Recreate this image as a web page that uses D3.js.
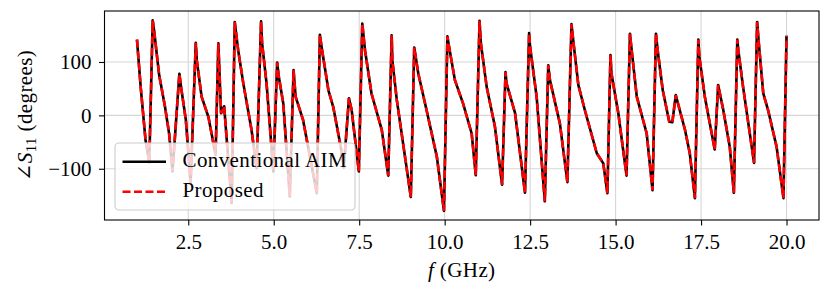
<!DOCTYPE html>
<html>
<head>
<meta charset="utf-8">
<script src="https://d3js.org/d3.v7.min.js"></script>
<style>
  body { margin: 0; background: #fff; }
  svg { font-family: "Liberation Serif", "DejaVu Serif", serif; }
</style>
</head>
<body>
<script>
// frequency samples (GHz)
var freqGHz = [
  1.00, 1.11, 1.25, 1.36, 1.46, 1.50, 1.65, 1.82, 1.94, 2.04,
  2.24, 2.29, 2.43, 2.57, 2.72, 2.75, 2.89, 3.09, 3.30, 3.38,
  3.46, 3.55, 3.77, 3.86, 3.96, 4.11, 4.35, 4.50, 4.63, 4.66,
  4.79, 4.99, 5.10, 5.15, 5.28, 5.47, 5.58, 5.64, 5.86, 6.26,
  6.35, 6.40, 6.60, 6.74, 6.96, 7.05, 7.20, 7.28, 7.49, 7.59,
  7.67, 7.86, 8.16, 8.35, 8.45, 8.47, 8.60, 9.01, 9.11, 9.23,
  9.47, 9.77, 9.98, 10.08, 10.13, 10.30, 10.54, 10.79, 10.91, 11.02,
  11.06, 11.23, 11.47, 11.68, 11.78, 11.81, 12.06, 12.35, 12.47, 12.50,
  12.69, 12.93, 13.03, 13.08, 13.37, 13.59, 13.71, 13.76, 13.91, 14.10,
  14.45, 14.64, 14.76, 14.85, 14.88, 15.08, 15.32, 15.42, 15.47, 15.62,
  15.91, 16.08, 16.18, 16.23, 16.38, 16.57, 16.66, 16.76, 17.03, 17.17,
  17.32, 17.42, 17.45, 17.61, 17.90, 18.00, 18.15, 18.34, 18.46, 18.56,
  18.59, 18.73, 19.05, 19.14, 19.19, 19.32, 19.46, 19.71, 19.91, 20.00
];

// phase of S11 (degrees), conventional AIM
var aimPhase = [
  142, 52, -46, -88, 178, 159, 75, 16, -34, -105,
  78, 53, -9, -126, 136, 103, 35, -3, -74, 135,
  4, 17, -164, 175, 122, 60, -27, -99, 176, 135,
  60, -105, 99, 72, 22, -152, 85, 35, -9, -146,
  151, 128, 47, 16, -59, -98, 32, 10, -105, 172,
  122, 41, -27, -113, 150, 103, 29, -153, 127, 78,
  10, -77, -179, 148, 128, 66, 22, -34, -112, 177,
  135, 53, -21, -130, 81, 60, 4, -145, 154, 128,
  35, -161, 94, 66, -15, -125, 171, 141, 57, 10,
  -71, -90, -146, 113, 78, 4, -113, 153, 122, 35,
  -34, -140, 153, 122, 47, -12, -13, 38, -27, -71,
  -155, 142, 110, 35, -64, 57, 10, -59, -145, 142,
  122, 53, -89, 175, 135, 41, 10, -59, -155, 149
];

// proposed method (lies on top of the conventional curve)
var proposedPhase = [
  142, 52, -46, -88, 178, 159, 75, 16, -34, -105,
  78, 53, -9, -126, 136, 103, 35, -3, -74, 135,
  4, 17, -164, 175, 122, 60, -27, -99, 176, 135,
  60, -105, 99, 72, 22, -152, 85, 35, -9, -146,
  151, 128, 47, 16, -59, -98, 32, 10, -105, 172,
  122, 41, -27, -113, 150, 103, 29, -153, 127, 78,
  10, -77, -179, 148, 128, 66, 22, -34, -112, 177,
  135, 53, -21, -130, 81, 60, 4, -145, 154, 128,
  35, -161, 94, 66, -15, -125, 171, 141, 57, 10,
  -71, -90, -146, 113, 78, 4, -113, 153, 122, 35,
  -34, -140, 153, 122, 47, -12, -13, 38, -27, -71,
  -155, 142, 110, 35, -64, 57, 10, -59, -145, 142,
  122, 53, -89, 175, 135, 41, 10, -59, -155, 149
];

var xTicks = [2.5, 5.0, 7.5, 10.0, 12.5, 15.0, 17.5, 20.0];
var yTicks = [-100, 0, 100];
var seriesNames = ["Conventional AIM", "Proposed"];

var W = 830, H = 293;
var margin = {top: 11, right: 11, bottom: 73, left: 104.5};

var svg = d3.select("body").append("svg")
    .attr("width", W)
    .attr("height", H);

var x = d3.scaleLinear().domain([0.05, 20.95]).range([margin.left, W - margin.right]);
var y = d3.scaleLinear().domain([-196, 195.5]).range([H - margin.bottom, margin.top]);

// grid
svg.append("g").selectAll("line.gx")
    .data(xTicks).enter().append("line")
    .attr("x1", function(d) { return x(d); })
    .attr("x2", function(d) { return x(d); })
    .attr("y1", margin.top).attr("y2", H - margin.bottom)
    .attr("stroke", "#d6d6d6").attr("stroke-width", 1.1);
svg.append("g").selectAll("line.gy")
    .data(yTicks).enter().append("line")
    .attr("y1", function(d) { return y(d); })
    .attr("y2", function(d) { return y(d); })
    .attr("x1", margin.left).attr("x2", W - margin.right)
    .attr("stroke", "#d6d6d6").attr("stroke-width", 1.1);

var line = d3.line()
    .x(function(d) { return x(d[0]); })
    .y(function(d) { return y(d[1]); });

svg.append("path")
    .datum(d3.zip(freqGHz, aimPhase))
    .attr("d", line)
    .attr("fill", "none")
    .attr("stroke", "#000")
    .attr("stroke-width", 2.6)
    .attr("stroke-linejoin", "round");

svg.append("path")
    .datum(d3.zip(freqGHz, proposedPhase))
    .attr("d", line)
    .attr("fill", "none")
    .attr("stroke", "#ff0000")
    .attr("stroke-width", 2.6)
    .attr("stroke-dasharray", "8,3.5");

// axes
var fmt = function(d) { return d3.format(".1f")(d); };
svg.append("g")
    .attr("transform", "translate(0," + (H - margin.bottom) + ")")
    .call(d3.axisBottom(x).tickValues(xTicks).tickFormat(fmt).tickSize(5.5).tickPadding(8.5).tickSizeOuter(0));
svg.append("g")
    .attr("transform", "translate(" + margin.left + ",0)")
    .call(d3.axisLeft(y).tickValues(yTicks)
      .tickFormat(function(d) { return d < 0 ? "\u2212" + Math.abs(d) : d; })
      .tickSize(5.5).tickPadding(7.5).tickSizeOuter(0));
svg.selectAll(".tick text")
    .attr("font-family", "Liberation Serif, serif")
    .attr("font-size", 21)
    .attr("fill", "#000");
svg.selectAll(".tick line").attr("stroke", "#000").attr("stroke-width", 1.1);
svg.selectAll(".domain").remove();

// frame
svg.append("rect")
    .attr("x", margin.left).attr("y", margin.top)
    .attr("width", W - margin.left - margin.right)
    .attr("height", H - margin.top - margin.bottom)
    .attr("fill", "none").attr("stroke", "#000").attr("stroke-width", 1.1);

// axis labels
var xl = svg.append("text")
    .attr("x", (margin.left + W - margin.right) / 2)
    .attr("y", 277)
    .attr("text-anchor", "middle")
    .attr("font-size", 21)
    .attr("letter-spacing", 0.4);
xl.append("tspan").attr("font-style", "italic").text("f");
xl.append("tspan").text(" (GHz)");

var yl = svg.append("text")
    .attr("transform", "translate(31.5," + ((margin.top + H - margin.bottom) / 2) + ") rotate(-90)")
    .attr("text-anchor", "middle")
    .attr("font-size", 21)
    .attr("letter-spacing", 0.4);
yl.append("tspan").text("\u2220");
yl.append("tspan").attr("font-style", "italic").text("S");
yl.append("tspan").attr("font-size", 15).attr("dy", 4).text("11");
yl.append("tspan").attr("dy", -4).text(" (degrees)");

// legend
var lg = svg.append("g");
lg.append("rect")
    .attr("x", 115).attr("y", 143)
    .attr("width", 240).attr("height", 67)
    .attr("rx", 4)
    .attr("fill", "#fff").attr("fill-opacity", 0.8)
    .attr("stroke", "#cccccc").attr("stroke-width", 1.1);
var handles = [
  {name: seriesNames[0], color: "#000", dash: null, yy: 161.7},
  {name: seriesNames[1], color: "#ff0000", dash: "8,3.5", yy: 191.7}
];
handles.forEach(function(h) {
  lg.append("line")
    .attr("x1", 122.5).attr("x2", 166)
    .attr("y1", h.yy).attr("y2", h.yy)
    .attr("stroke", h.color).attr("stroke-width", 2.6)
    .attr("stroke-dasharray", h.dash);
  lg.append("text")
    .attr("x", 182.5).attr("y", h.yy + 5.5)
    .attr("font-size", 21)
    .attr("letter-spacing", 0.4)
    .text(h.name);
});
</script>
</body>
</html>
